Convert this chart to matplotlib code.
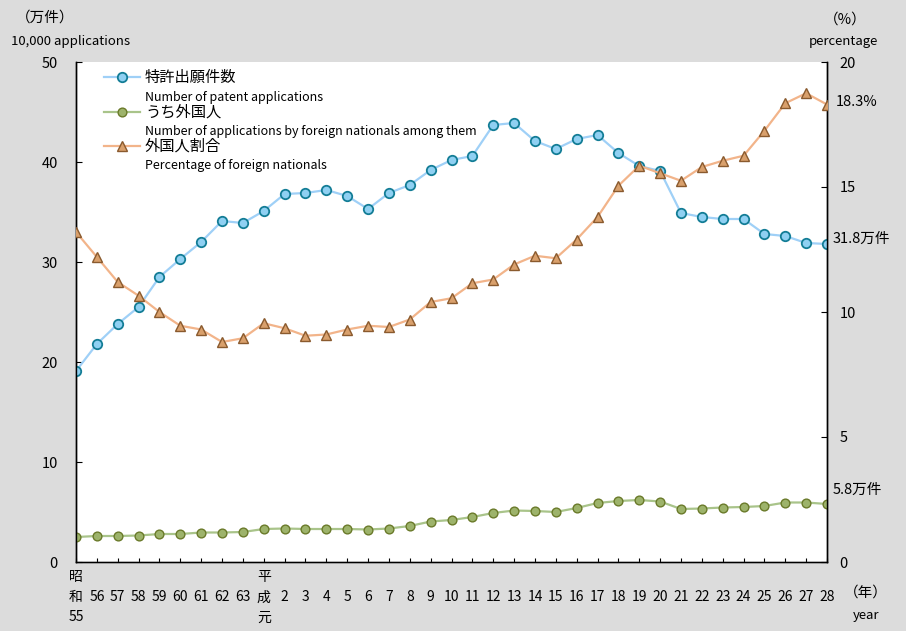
import matplotlib
matplotlib.use("Agg")
import matplotlib.pyplot as plt
from matplotlib.lines import Line2D

plt.rcParams['font.family'] = ['Noto Sans CJK JP', 'DejaVu Sans']

# years: Showa 55-63, Heisei 1(元)-28
year_labels = ["昭\n和\n55", "56", "57", "58", "59", "60", "61", "62", "63",
               "平\n成\n元"] + [str(i) for i in range(2, 29)]

# patent applications (10,000 applications)
applications = [19.1, 21.8, 23.8, 25.5, 28.5, 30.3, 32.0, 34.1, 33.9,
                35.1, 36.8, 36.9, 37.2, 36.6, 35.3, 36.9, 37.7, 39.2, 40.2,
                40.6, 43.7, 43.9, 42.1, 41.3, 42.3, 42.7, 40.9, 39.6, 39.1,
                34.9, 34.5, 34.3, 34.3, 32.8, 32.6, 31.9, 31.8]

# of which by foreign nationals (10,000 applications)
foreign = [2.5, 2.6, 2.6, 2.65, 2.8, 2.8, 2.95, 2.95, 3.0,
           3.3, 3.35, 3.3, 3.3, 3.3, 3.25, 3.35, 3.6, 4.05, 4.2,
           4.5, 4.9, 5.15, 5.1, 5.0, 5.4, 5.9, 6.1, 6.2, 6.05,
           5.3, 5.35, 5.45, 5.5, 5.6, 5.95, 5.95, 5.8]

# percentage of foreign nationals (%)
ratio = [13.2, 12.2, 11.2, 10.65, 10.0, 9.45, 9.3, 8.8, 8.95,
         9.55, 9.35, 9.05, 9.1, 9.3, 9.45, 9.4, 9.7, 10.4, 10.55,
         11.15, 11.3, 11.9, 12.25, 12.15, 12.9, 13.8, 15.05, 15.85, 15.55,
         15.25, 15.8, 16.05, 16.25, 17.25, 18.35, 18.75, 18.3]

bg = "#dcdcdc"
blue_line, blue_face, blue_edge = "#9fd0f7", "#8fd0f2", "#137d96"
green_line, green_face, green_edge = "#a9c48a", "#9db36b", "#6a7a2a"
orange_line, orange_face, orange_edge = "#f2b48a", "#d9a06c", "#8a5a2e"

fig = plt.figure(figsize=(9.06, 6.31), dpi=100, facecolor=bg)
ax = fig.add_axes([76 / 906, 1 - 562 / 631, 751 / 906, 500 / 631])
ax2 = ax.twinx()

x = list(range(len(year_labels)))

ax.plot(x, applications, color=blue_line, lw=1.6, marker="o", ms=6.8,
        mfc=blue_face, mec=blue_edge, mew=1.3, zorder=3)
ax.plot(x, foreign, color=green_line, lw=1.6, marker="o", ms=6.3,
        mfc=green_face, mec=green_edge, mew=1.0, zorder=3)
ax2.plot(x, ratio, color=orange_line, lw=1.6, marker="^", ms=7,
         mfc=orange_face, mec=orange_edge, mew=1.0, zorder=3)

ax.set_xlim(0, len(x) - 1)
ax.set_ylim(0, 50)
ax2.set_ylim(0, 20)
ax.set_yticks(range(0, 51, 10))
ax2.set_yticks(range(0, 21, 5))
ax.set_xticks(x)
# single-line labels are padded so they sit on the middle row
xt = [lab if "\n" in lab else "\n" + lab + "\n" for lab in year_labels]
ax.set_xticklabels(xt, fontsize=10, linespacing=1.55, va="top")

for a in (ax, ax2):
    a.spines["top"].set_visible(False)
    for s in ("left", "right", "bottom"):
        a.spines[s].set_linewidth(1.0)
        a.spines[s].set_color("black")
ax.spines["bottom"].set_color("#555555")

ax.tick_params(axis="y", direction="in", length=4, labelsize=10.5, pad=13)
ax.tick_params(axis="x", direction="in", length=3, labelsize=10, pad=6)
ax2.tick_params(axis="y", direction="in", length=4, labelsize=10.5, pad=9)
ax.set_facecolor("white")
ax2.patch.set_visible(False)

# axis titles
fig.text(45 / 906, 1 - 18 / 631, "（万件）", ha="center", va="center", fontsize=10.5)
fig.text(11 / 906, 1 - 41 / 631, "10,000 applications", ha="left", va="center", fontsize=9.5)
fig.text(845 / 906, 1 - 20 / 631, "（%）", ha="center", va="center", fontsize=10.5)
fig.text(843 / 906, 1 - 41 / 631, "percentage", ha="center", va="center", fontsize=9.5)
fig.text(866 / 906, 1 - 593 / 631, "（年）", ha="center", va="center", fontsize=10.5)
fig.text(866 / 906, 1 - 616 / 631, "year", ha="center", va="center", fontsize=9.5)

# end labels
ax2.annotate(f"{ratio[-1]:.1f}%", (x[-1], ratio[-1]), xytext=(6, 2),
             textcoords="offset points", ha="left", va="center", fontsize=10.5,
             annotation_clip=False)
ax.annotate(f"{applications[-1]:.1f}万件", (x[-1], applications[-1]), xytext=(4, 4),
            textcoords="offset points", ha="left", va="center", fontsize=10.5,
            annotation_clip=False)
ax.annotate(f"{foreign[-1]:.1f}万件", (x[-1], foreign[-1]), xytext=(4, 10),
            textcoords="offset points", ha="left", va="center", fontsize=10.5,
            annotation_clip=False)

# legend drawn by hand
legend_items = [
    ("特許出願件数", "Number of patent applications",
     dict(color=blue_line, marker="o", ms=6.8, mfc=blue_face, mec=blue_edge, mew=1.3)),
    ("うち外国人", "Number of applications by foreign nationals among them",
     dict(color=green_line, marker="o", ms=6.3, mfc=green_face, mec=green_edge, mew=1.0)),
    ("外国人割合", "Percentage of foreign nationals",
     dict(color=orange_line, marker="^", ms=7, mfc=orange_face, mec=orange_edge, mew=1.0)),
]
rows = [77, 112, 146]
for (jp, en, style), py in zip(legend_items, rows):
    yf = (562 - py) / 500
    ax.add_line(Line2D([(104 - 76) / 751, (140 - 76) / 751], [yf, yf],
                       transform=ax.transAxes, lw=1.6,
                       color=style["color"], zorder=4))
    ax.add_line(Line2D([(122 - 76) / 751], [yf], transform=ax.transAxes,
                       ls="none", zorder=5, **{k: v for k, v in style.items() if k != "color"}))
    ax.text((145 - 76) / 751, yf, jp, transform=ax.transAxes, ha="left",
            va="center", fontsize=11)
    ax.text((145 - 76) / 751, (562 - py - 20) / 500, en, transform=ax.transAxes,
            ha="left", va="center", fontsize=9)

fig.savefig("out.png", dpi=100, facecolor=bg)
